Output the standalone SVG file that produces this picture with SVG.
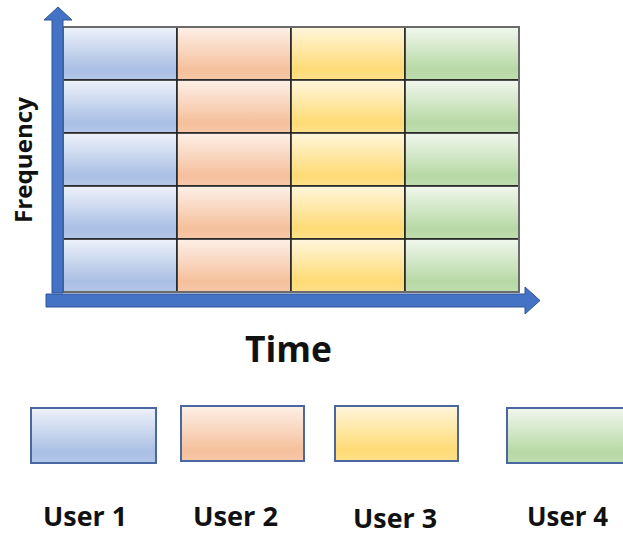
<svg xmlns="http://www.w3.org/2000/svg" width="623" height="535" viewBox="0 0 623 535">
  <defs>
    <linearGradient id="gBlue" x1="0" y1="0" x2="0" y2="1">
      <stop offset="0" stop-color="#eef2fa"/>
      <stop offset="0.8" stop-color="#a9bfe4"/>
      <stop offset="1" stop-color="#b3c7e8"/>
    </linearGradient>
    <linearGradient id="gOrange" x1="0" y1="0" x2="0" y2="1">
      <stop offset="0" stop-color="#fdf0e8"/>
      <stop offset="0.8" stop-color="#f5c09c"/>
      <stop offset="1" stop-color="#f6c8a8"/>
    </linearGradient>
    <linearGradient id="gYellow" x1="0" y1="0" x2="0" y2="1">
      <stop offset="0" stop-color="#fff6dc"/>
      <stop offset="0.8" stop-color="#ffdb76"/>
      <stop offset="1" stop-color="#ffe18a"/>
    </linearGradient>
    <linearGradient id="gGreen" x1="0" y1="0" x2="0" y2="1">
      <stop offset="0" stop-color="#f1f7ee"/>
      <stop offset="0.8" stop-color="#b7d9a5"/>
      <stop offset="1" stop-color="#bfddaf"/>
    </linearGradient>
  </defs>
  <style>
    .cell { stroke: #262626; stroke-width: 1.6; }
    .frame { fill: none; stroke: #6b6b6b; stroke-width: 2; }
    .axis { fill: #4472c4; stroke: #2f5597; stroke-width: 1; }
    .key { stroke: #4a67a1; stroke-width: 2; }
    .lbl { font-family: "Open Sans", "Liberation Sans", sans-serif; font-weight: bold; fill: #111111; }
  </style>

  <!-- time/frequency grid: one column per user, five frequency rows -->
  <g id="grid">
    <g id="col-user1" fill="url(#gBlue)">
      <rect class="cell" x="63" y="27" width="114" height="53"/>
      <rect class="cell" x="63" y="80" width="114" height="53"/>
      <rect class="cell" x="63" y="133" width="114" height="53"/>
      <rect class="cell" x="63" y="186" width="114" height="53"/>
      <rect class="cell" x="63" y="239" width="114" height="53"/>
    </g>
    <g id="col-user2" fill="url(#gOrange)">
      <rect class="cell" x="177" y="27" width="114" height="53"/>
      <rect class="cell" x="177" y="80" width="114" height="53"/>
      <rect class="cell" x="177" y="133" width="114" height="53"/>
      <rect class="cell" x="177" y="186" width="114" height="53"/>
      <rect class="cell" x="177" y="239" width="114" height="53"/>
    </g>
    <g id="col-user3" fill="url(#gYellow)">
      <rect class="cell" x="291" y="27" width="114" height="53"/>
      <rect class="cell" x="291" y="80" width="114" height="53"/>
      <rect class="cell" x="291" y="133" width="114" height="53"/>
      <rect class="cell" x="291" y="186" width="114" height="53"/>
      <rect class="cell" x="291" y="239" width="114" height="53"/>
    </g>
    <g id="col-user4" fill="url(#gGreen)">
      <rect class="cell" x="405" y="27" width="114" height="53"/>
      <rect class="cell" x="405" y="80" width="114" height="53"/>
      <rect class="cell" x="405" y="133" width="114" height="53"/>
      <rect class="cell" x="405" y="186" width="114" height="53"/>
      <rect class="cell" x="405" y="239" width="114" height="53"/>
    </g>
    <rect class="frame" x="63" y="27" width="456" height="265"/>
  </g>

  <!-- axes -->
  <g id="axes">
    <path class="axis" d="M52 293 V20 H44 L58 7 L72 20 H63 V293 Z"/>
    <path class="axis" d="M46 294 H525 V287 L540 300.5 L525 314 V307 H46 Z"/>
  </g>

  <!-- axis titles -->
  <text class="lbl" font-size="24" transform="translate(32 160) rotate(-90)" text-anchor="middle" textLength="126" lengthAdjust="spacingAndGlyphs">Frequency</text>
  <text class="lbl" x="288.5" y="362" font-size="35" text-anchor="middle" textLength="87" lengthAdjust="spacingAndGlyphs">Time</text>

  <!-- legend -->
  <g id="key-user1">
    <rect class="key" x="31" y="408" width="125" height="55" fill="url(#gBlue)"/>
    <text class="lbl" x="85" y="526" font-size="26" text-anchor="middle" textLength="84" lengthAdjust="spacingAndGlyphs">User 1</text>
  </g>
  <g id="key-user2">
    <rect class="key" x="181" y="406" width="123" height="55" fill="url(#gOrange)"/>
    <text class="lbl" x="235.5" y="526" font-size="26" text-anchor="middle" textLength="85" lengthAdjust="spacingAndGlyphs">User 2</text>
  </g>
  <g id="key-user3">
    <rect class="key" x="335" y="406" width="123" height="55" fill="url(#gYellow)"/>
    <text class="lbl" x="395" y="528" font-size="26" text-anchor="middle" textLength="84" lengthAdjust="spacingAndGlyphs">User 3</text>
  </g>
  <g id="key-user4">
    <rect class="key" x="507" y="408" width="125" height="55" fill="url(#gGreen)"/>
    <text class="lbl" x="567.5" y="526" font-size="26" text-anchor="middle" textLength="81" lengthAdjust="spacingAndGlyphs">User 4</text>
  </g>
</svg>
